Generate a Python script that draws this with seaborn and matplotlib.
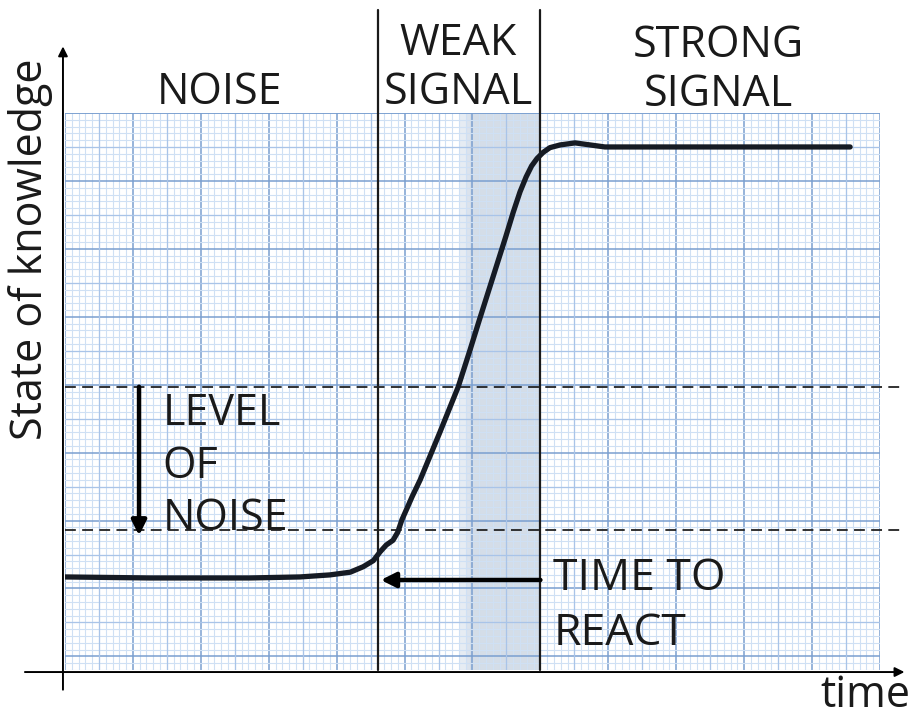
import numpy as np
import matplotlib
matplotlib.use("Agg")
import matplotlib.pyplot as plt
import seaborn as sns

# curve, in grid units (1 unit = one small square)
time_pts = [0, 12.5, 27.2, 34.6, 39.0, 42.0, 43.9, 45.4, 46.4, 47.3, 48.3, 49.0,
            49.6, 50.4, 51.1, 52.3, 55.2, 57.9, 59.6, 61.0, 62.3, 63.6, 64.9,
            66.0, 67.0, 67.9, 68.7, 69.5, 70.4, 71.4, 72.9, 75.1, 77.3, 79.5, 115.6]
knowledge = [13.7, 13.55, 13.55, 13.7, 14.0, 14.4, 15.2, 16.1, 17.4, 18.4, 19.1, 20.3,
             22.1, 23.9, 25.5, 28.0, 35.0, 41.7, 47.0, 51.5, 55.6, 59.7, 63.8,
             67.4, 70.4, 72.6, 74.2, 75.3, 76.2, 76.9, 77.3, 77.6, 77.3, 77.0, 77.0]

phase_edges = [46.1, 70.0]        # noise | weak | strong
react_band = [59.6, 70.0]
noise_levels = [41.7, 20.6]
headers = ["NOISE", "WEAK\nSIGNAL", "STRONG\nSIGNAL"]

sns.set_theme(style="white")
plt.rcParams["font.family"] = ["Open Sans", "DejaVu Sans"]

fig = plt.figure(figsize=(9.12, 7.17), dpi=100)
ax = fig.add_axes([65 / 912, 47 / 717, 815 / 912, 557 / 717])
ax.set_xlim(0, 120)
ax.set_ylim(0, 82)
ax.set_axisbelow(True)
for s in ax.spines.values():
    s.set_visible(False)
ax.tick_params(length=0, labelbottom=False, labelleft=False)

# graph paper
ax.set_xticks(np.arange(0, 121, 10))
ax.set_xticks(np.arange(0, 121, 1), minor=True)
ax.set_yticks(np.arange(2, 83, 10))
ax.set_yticks(np.arange(0, 83, 1), minor=True)
ax.grid(which="minor", color="#cfe0f4", lw=0.8)
ax.grid(which="major", color="#7a9fd0", lw=1.1)
ax.vlines(np.arange(5, 120, 10), 0, 82, color="#a9c4e8", lw=0.9, zorder=0.6)
ax.hlines(np.arange(7, 82, 10), 0, 120, color="#a9c4e8", lw=0.9, zorder=0.6)
ax.axhline(82, color="#7a9fd0", lw=1.1)

# time to react band
ax.axvspan(react_band[0] - 1.4, react_band[0] - 0.6, color="#e6ecf3", lw=0, zorder=0.2)
ax.axvspan(react_band[0] - 0.6, react_band[0], color="#dbe3ed", lw=0, zorder=0.2)
ax.axvspan(react_band[0], react_band[1], color="#d4dde8", lw=0, zorder=0.2)

sns.lineplot(x=time_pts, y=knowledge, sort=False, color="#161b24", lw=3.8,
             ax=ax, zorder=5)

# phase separators
for xv in phase_edges:
    ax.plot([xv, xv], [0, 97.2], color="#1a1a1a", lw=1.6, clip_on=False, zorder=4)

# noise band
for yv in noise_levels:
    ax.plot([0, 123.7], [yv, yv], color="#222222", lw=1.3, ls=(0, (6, 3.5)),
            clip_on=False, zorder=4)

# axes arrows
arr = dict(arrowstyle="-|>", color="black", lw=1.4, mutation_scale=14,
           shrinkA=0, shrinkB=0)
ax.annotate("", xy=(-0.3, 91.8), xytext=(-0.3, -2.9), arrowprops=arr,
            annotation_clip=False)
ax.annotate("", xy=(123.6, -0.3), xytext=(-5.9, -0.3), arrowprops=arr,
            annotation_clip=False)

thick = dict(arrowstyle="-|>", color="black", lw=3.2, mutation_scale=22,
             shrinkA=0, shrinkB=0)
ax.annotate("", xy=(10.9, noise_levels[1] - 0.8), xytext=(10.9, noise_levels[0]),
            arrowprops=thick, annotation_clip=False, zorder=6)
ax.annotate("", xy=(46.5, 13.25), xytext=(70.0, 13.25),
            arrowprops=thick, annotation_clip=False, zorder=6)

fs = 31
txt = dict(fontsize=fs, color="#1a1a1a", va="baseline")
ax.text(22.8, 83.3, headers[0], ha="center", **txt)
ax.text(57.9, 83.3, headers[1], ha="center", linespacing=1.15, **txt)
ax.text(96.2, 83.0, headers[2], ha="center", linespacing=1.15, **txt)

for line, yv in zip(["LEVEL", "OF", "NOISE"], [36.1, 28.3, 20.6]):
    ax.text(14.4, yv, line, ha="left", **txt)
for line, yv in zip(["TIME TO", "REACT"], [11.8, 3.7]):
    ax.text(71.9, yv, line, ha="left", fontsize=32, color="#1a1a1a", va="baseline")

ax.text(-5.1, 61.9, "State of knowledge", rotation=90, ha="center", va="center",
        fontsize=fs, color="#1a1a1a")
ax.text(117.8, -5.5, "time", ha="center", **txt)

fig.savefig("out.png", dpi=100)
